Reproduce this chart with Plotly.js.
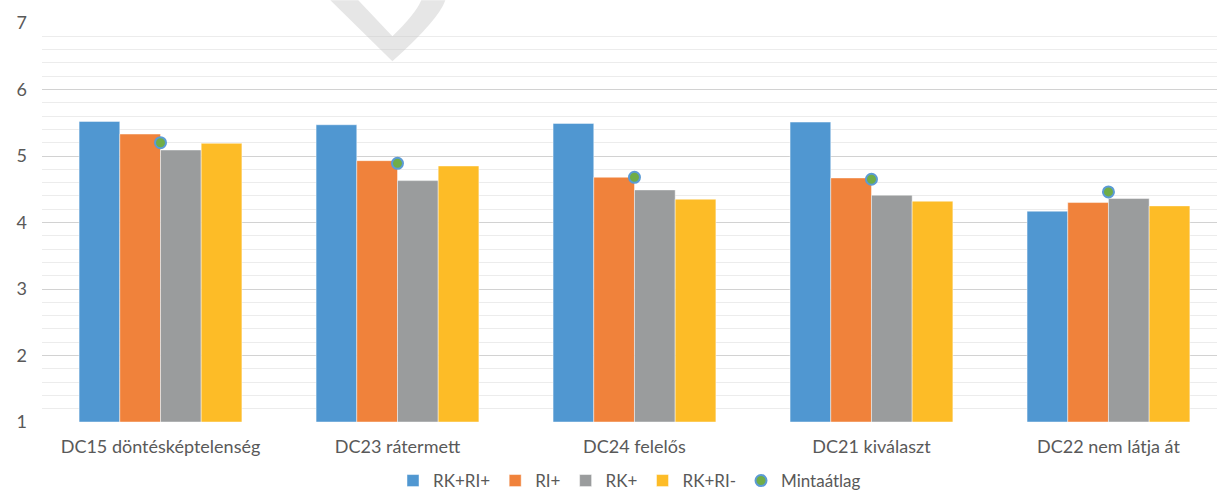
<!DOCTYPE html>
<html>
<head>
<meta charset="utf-8">
<script src="https://cdn.plot.ly/plotly-3.0.1.min.js"></script>
<style>
  html, body { margin: 0; padding: 0; background: #ffffff; }
  #chart { width: 1217px; height: 499px; }
</style>
</head>
<body>
<div id="chart"></div>
<script>
const categories = ["DC15 döntésképtelenség", "DC23 rátermett", "DC24 felelős", "DC21 kiválaszt", "DC22 nem látja át"];
const seriesNames = ["RK+RI+", "RI+", "RK+", "RK+RI-"];
const rkriPlus = [5.52, 5.47, 5.49, 5.51, 4.17];
const riPlus = [5.33, 4.93, 4.68, 4.67, 4.30];
const rkPlus = [5.09, 4.63, 4.49, 4.41, 4.36];
const rkriMinus = [5.19, 4.85, 4.35, 4.32, 4.25];
const mintaatlag = [5.20, 4.89, 4.68, 4.65, 4.46];
const yTicks = [1, 2, 3, 4, 5, 6, 7];

const colors = ["#5097d1", "#f0823b", "#9a9c9d", "#fdbc27"];
const seriesValues = [rkriPlus, riPlus, rkPlus, rkriMinus];
const fontFamily = "Lato, 'Liberation Sans', sans-serif";
const textColor = "#595959";

const traces = seriesValues.map((vals, i) => ({
  type: "bar",
  name: seriesNames[i],
  x: categories,
  y: vals.map(v => v - 1),
  base: 1,
  marker: { color: colors[i], line: { color: "rgba(255,255,255,0.45)", width: 1 } },
  hoverinfo: "skip"
}));

traces.push({
  type: "scatter",
  mode: "markers",
  name: "Mintaátlag",
  x: categories,
  y: mintaatlag,
  marker: { color: "#70ad47", size: 11, line: { color: "#5b9bd5", width: 2 } },
  hoverinfo: "skip"
});

// pixel -> paper helpers for the faint watermark decoration
const L = 41.5, R = 1217, T = 22.7, B = 421.7;
const px = x => ((x - L) / (R - L)).toFixed(4);
const py = y => ((B - y) / (B - T)).toFixed(4);
const wm = `M ${px(330)},${py(0)} L ${px(392)},${py(61)} Q ${px(438)},${py(20)} ${px(445)},${py(0)} L ${px(421)},${py(0)} Q ${px(415)},${py(14)} ${px(392)},${py(36)} L ${px(358)},${py(0)} Z`;

const layout = {
  width: 1217,
  height: 499,
  margin: { l: 41.5, r: 0, t: 22.7, b: 77.3, pad: 0 },
  paper_bgcolor: "#ffffff",
  plot_bgcolor: "#ffffff",
  font: { family: fontFamily, size: 18, color: textColor },
  barmode: "group",
  bargap: 0.313,
  bargroupgap: 0,
  showlegend: true,
  legend: {
    orientation: "h",
    xref: "paper", x: 0.5, xanchor: "center",
    yref: "container", y: 0, yanchor: "bottom",
    font: { family: fontFamily, size: 17, color: textColor },
    itemwidth: 30,
    traceorder: "normal"
  },
  xaxis: {
    type: "category",
    range: [-0.5, 4.458],
    showgrid: false,
    showline: false,
    ticks: "",
    tickfont: { family: fontFamily, size: 18, color: textColor },
    ticklabelstandoff: 12,
    fixedrange: true
  },
  yaxis: {
    range: [1, 7],
    tickvals: yTicks,
    ticktext: yTicks.map(String),
    showgrid: true,
    gridcolor: "#d2d2d2",
    gridwidth: 1,
    zeroline: false,
    showline: false,
    ticks: "",
    tickfont: { family: fontFamily, size: 18, color: textColor },
    ticklabelstandoff: 14,
    minor: { dtick: 0.2, showgrid: true, gridcolor: "#ececec", gridwidth: 1, ticks: "" },
    fixedrange: true
  },
  shapes: [
    {
      type: "path",
      xref: "paper", yref: "paper",
      path: wm,
      fillcolor: "rgba(200,200,200,0.45)",
      line: { width: 0 },
      layer: "above"
    }
  ]
};

Plotly.newPlot("chart", traces, layout, { displayModeBar: false, staticPlot: true });
</script>
</body>
</html>
